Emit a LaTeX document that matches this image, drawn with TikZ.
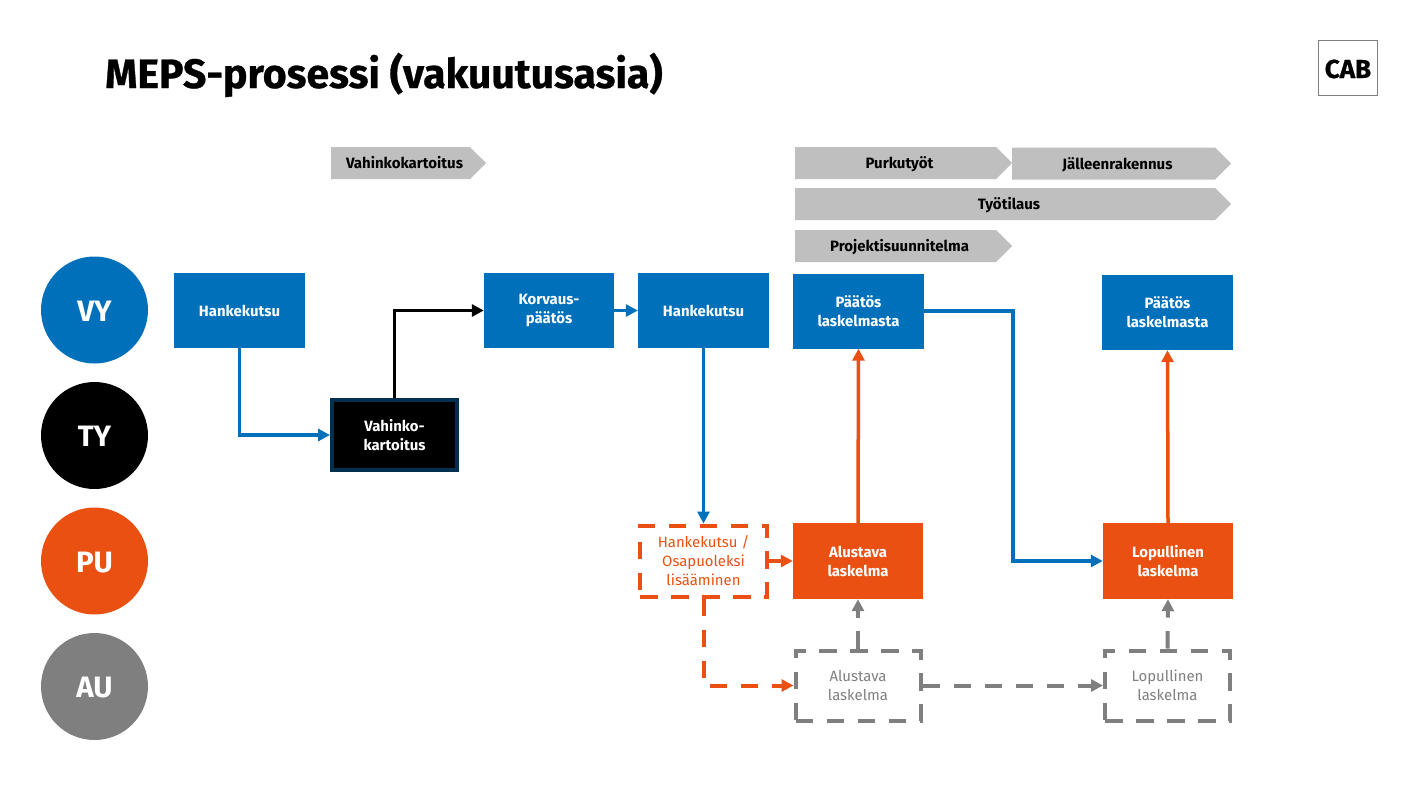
\documentclass[tikz,border=0pt]{standalone}
\usepackage{fontspec}
\setmainfont{Fira Sans}
\newfontfamily\heavyfont[BoldFeatures={FakeBold=0.7}]{Fira Sans}
\usetikzlibrary{positioning,calc}
\usetikzlibrary{arrows.meta,shapes.symbols}
\definecolor{CabBlue}{RGB}{0,112,187}
\definecolor{CabOrange}{RGB}{233,80,17}
\definecolor{CabGray}{RGB}{127,127,127}
\definecolor{PhaseGray}{RGB}{191,191,191}
\definecolor{CabNavy}{RGB}{0,47,79}
\tikzset{
	role/.style={circle,fill=#1,text=white,minimum size=107pt,inner sep=0pt,text height=22pt,text depth=0pt,
		font=\fontsize{29.5}{32}\selectfont\bfseries},
	stage/.style={rectangle,fill=#1,text=white,minimum width=130pt,minimum height=75pt,inner sep=0pt,align=center,
		font=\fontsize{14.9}{19}\selectfont\bfseries},
	open/.style={rectangle,draw=#1,text=#1,line width=4pt,dash pattern=on 17.5pt off 13.5pt,minimum width=127pt,minimum height=71pt,
		inner sep=0pt,align=center,font=\fontsize{14.9}{19}\selectfont},
	phase/.style={signal,signal to=east,signal from=nowhere,signal pointer angle=90,fill=PhaseGray,text=black,
		minimum height=32pt,inner sep=0pt,text height=11pt,text depth=0pt,font=\fontsize{15}{17}\selectfont\bfseries,
		execute at begin node=\hspace*{8pt}},
	link/.style={draw=#1,line width=3.5pt,-{Triangle[length=12pt,width=12pt]}},
	dlink/.style={link=#1,line width=4pt,dash pattern=on 17.5pt off 13.5pt},
}
\begin{document}
\begin{tikzpicture}[x=1pt,y=-1pt]
	\useasboundingbox (0,0) rectangle (1419,796);
	\node[anchor=base west,inner sep=0pt,font=\fontsize{41}{44}\selectfont\heavyfont\bfseries] (title) at (105,88) {MEPS-prosessi (vakuutusasia)};
	\node[draw=CabGray,line width=1pt,minimum width=59pt,minimum height=55pt,inner sep=0pt,text height=20pt,text depth=0pt,
		font=\fontsize{26}{28}\selectfont\heavyfont\bfseries] (logo) at (1348,68) {CAB};

	\node[role=CabBlue] (vy) at (94.5,310) {VY};
	\node[role=black] (ty) at (94.5,435.5) {TY};
	\node[role=CabOrange] (pu) at (94.5,561) {PU};
	\node[role=CabGray] (au) at (94.5,686.5) {AU};

	\node[phase,minimum width=155pt] (kartoitus) at (400.5,163) {Vahinkokartoitus};
	\node[phase,minimum width=217pt] (purku) at (895.5,163) {Purkutyöt};
	\node[phase,minimum width=219pt] (jalleen) at (1113.5,163.5) {Jälleenrakennus};
	\node[phase,minimum width=436pt] (tilaus) at (1005,204) {Työtilaus};
	\node[phase,minimum width=217pt] (suunnitelma) at (895.5,246) {Projektisuunnitelma};

	\node[stage=CabBlue,minimum width=131pt] (kutsua) at (239.5,310.5) {Hankekutsu};
	\node[stage=black,draw=CabNavy,line width=4pt,minimum width=125pt,minimum height=70pt] (vahinko) at (394.5,435) {Vahinko-\\kartoitus};
	\node[stage=CabBlue] (korvaus) at (549,310.5) {Korvaus-\\päätös};
	\node[stage=CabBlue,minimum width=131pt] (kutsub) at (703.5,310.5) {Hankekutsu};
	\node[stage=CabBlue,minimum width=131pt] (paatosa) at (858.5,311) {Päätös\\laskelmasta};
	\node[stage=CabBlue,minimum width=131pt] (paatosb) at (1167.5,312.5) {Päätös\\laskelmasta};
	\node[open=CabOrange] (lisays) at (703.5,561) {Hankekutsu /\\Osapuoleksi\\lisääminen};
	\node[stage=CabOrange,minimum height=76pt] (alustava) at (858,561) {Alustava\\laskelma};
	\node[stage=CabOrange,minimum height=76pt] (lopullinen) at (1168,561) {Lopullinen\\laskelma};
	\node[open=CabGray,minimum width=125pt,minimum height=70pt] (alustavag) at (858,685.5) {Alustava\\laskelma};
	\node[open=CabGray,minimum width=125pt,minimum height=70pt] (lopullineng) at (1167.5,685.5) {Lopullinen\\laskelma};
	\coordinate (turn) at (1013,430);

	\draw[link=CabBlue] (kutsua.south) |- (vahinko.west);
	\draw[link=black] (vahinko.north) |- (korvaus.west);
	\draw[link=CabBlue] (korvaus.east) -- (kutsub.west);
	\draw[link=CabBlue] (kutsub.south) -- (lisays.north);
	\draw[link=CabBlue] (paatosa.east) -| (turn) |- (lopullinen.west);
	\draw[link=CabOrange] (lisays.east) -- (alustava.west);
	\draw[link=CabOrange] (alustava.north) -- (paatosa.south);
	\draw[link=CabOrange] (lopullinen.north) -- (paatosb.south);
	\draw[dlink=CabOrange] (lisays.south) |- (alustavag.west);
	\draw[dlink=CabGray] (alustavag.north) -- (alustava.south);
	\draw[dlink=CabGray] (lopullineng.north) -- (lopullinen.south);
	\draw[dlink=CabGray] (alustavag.east) -- (lopullineng.west);
\end{tikzpicture}
\end{document}
